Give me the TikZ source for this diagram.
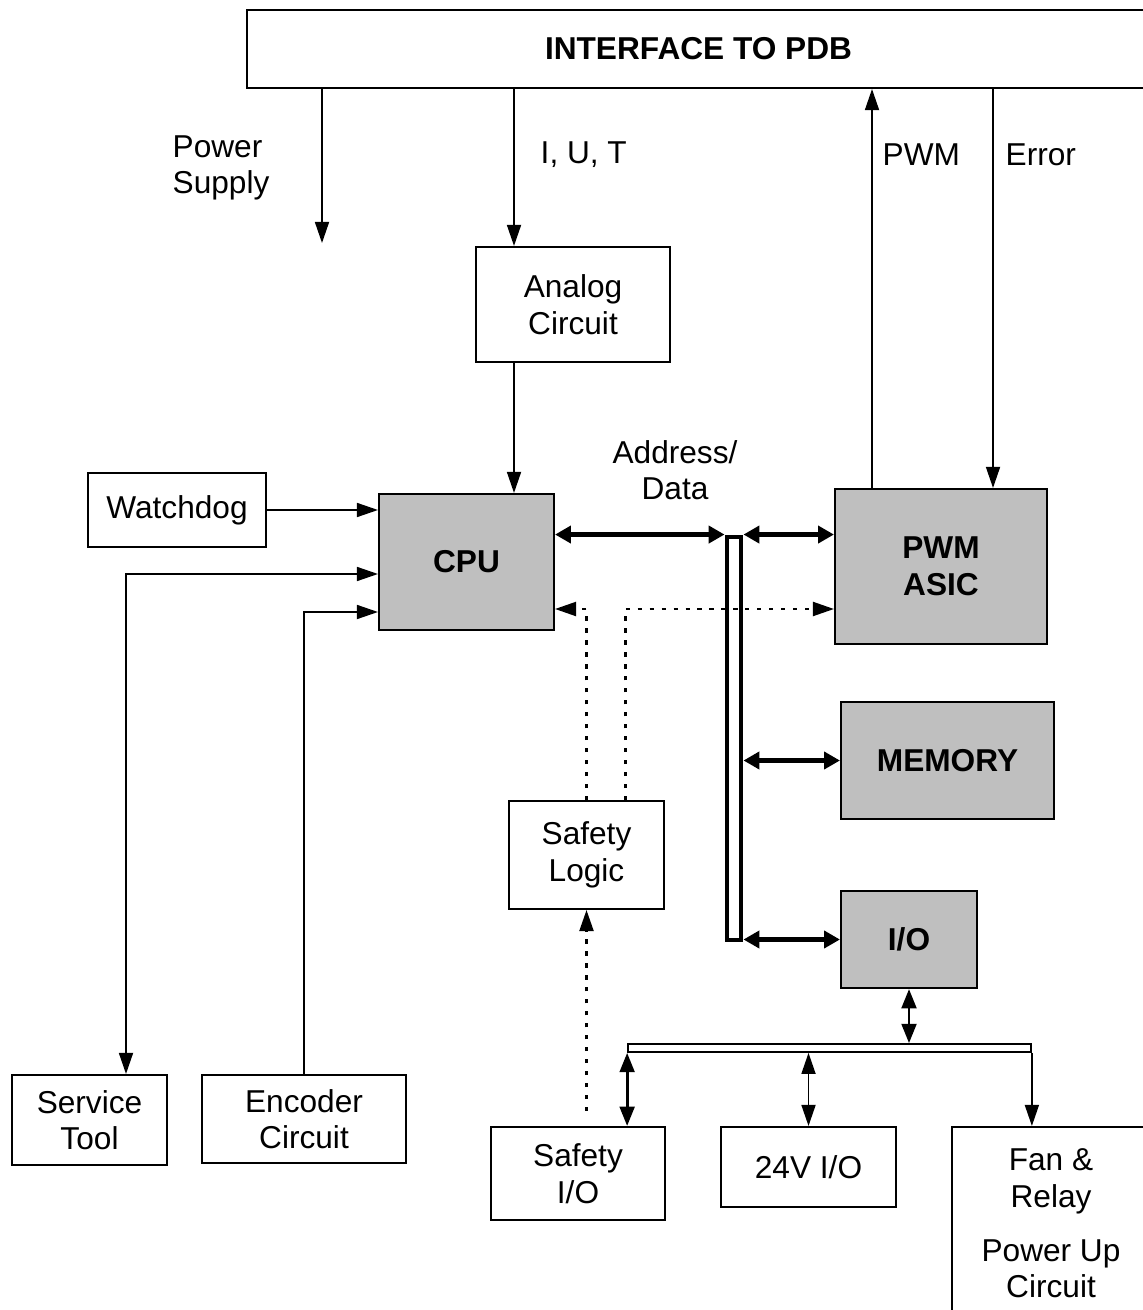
\documentclass[tikz,border=0pt]{standalone}
\usepackage{fontspec}
\setmainfont{Liberation Sans}
\usetikzlibrary{arrows.meta, calc, positioning}

\begin{document}
\begin{tikzpicture}[x=0.1mm, y=-0.1mm, >={Triangle[length=6pt,width=4pt]},
    txt/.style={font=\fontsize{9}{10.4}\selectfont, align=center, inner sep=0pt},
    blk/.style={txt, draw, line width=0.6pt},
    gblk/.style={blk, fill=gray!50, font=\fontsize{9}{10.4}\selectfont\bfseries},
    arr/.style={->, line width=0.45pt},
    arrb/.style={<->, line width=0.45pt},
    marr/.style={{Triangle[length=5.5pt,width=4.2pt]}-{Triangle[length=5.5pt,width=4.2pt]}, line width=0.8pt},
    dbus/.style={{Triangle[length=4.5pt,width=4.8pt]}-{Triangle[length=4.5pt,width=4.8pt]}, line width=1.4pt},
    dotarr/.style={->, line width=0.6pt, dash pattern=on 1.2pt off 2.2pt}]
    \clip (0,0) rectangle (1143,1310);
    \node[blk, minimum width=90.3mm, minimum height=7.8mm, font=\fontsize{9}{10.4}\selectfont\bfseries] (pdb) at (698.5,49) {INTERFACE TO PDB};
    \node[blk, minimum width=19.4mm, minimum height=11.5mm] (analog) at (573,304.5) {Analog\\Circuit};
    \node[blk, minimum width=17.8mm, minimum height=7.4mm] (wdog) at (177,510) {Watchdog};
    \node[gblk, minimum width=17.5mm, minimum height=13.6mm] (cpu) at (466.5,562) {CPU};
    \node[gblk, minimum width=21.2mm, minimum height=15.5mm] (pwm) at (941,566.5) {PWM\\ASIC};
    \node[gblk, minimum width=21.3mm, minimum height=11.7mm] (mem) at (947.5,760.5) {MEMORY};
    \node[gblk, minimum width=13.6mm, minimum height=9.7mm] (io) at (909,939.5) {I/O};
    \node[draw, fill=white, line width=1.4pt, inner sep=0pt, minimum width=1.4mm, minimum height=40.3mm] (bus) at (734,738.5) {};
    \node[blk, minimum width=15.5mm, minimum height=10.8mm] (safety) at (586.5,855) {Safety\\Logic};
    \node[blk, minimum width=15.5mm, minimum height=9mm] (service) at (89.5,1120) {Service\\Tool};
    \node[blk, minimum width=20.4mm, minimum height=8.8mm] (encoder) at (304,1119) {Encoder\\Circuit};
    \node[blk, minimum width=17.4mm, minimum height=9.3mm] (sio) at (578,1173.5) {Safety\\I/O};
    \node[blk, minimum width=17.5mm, minimum height=8mm] (v24) at (808.5,1167) {24V I/O};
    \node[blk, minimum width=19.8mm, minimum height=19.3mm] (fan) at (1051,1223.5) {Fan \&\\Relay\\[5pt]Power Up\\Circuit};
    \node[draw, fill=white, line width=0.5pt, inner sep=0pt, minimum width=40.3mm, minimum height=0.8mm] (lbus) at (829.5,1048) {};

    \node[txt, anchor=west, align=left] (lblpwr) at (172,168) {Power\\Supply};
    \node[txt, anchor=west] (lbliut) at (540,155) {I, U, T};
    \node[txt, anchor=west] (lblpwm) at (882,155) {PWM};
    \node[txt, anchor=west] (lblerr) at (1005,155) {Error};
    \node[txt] (lbladdr) at (675,470) {Address/\\Data};

    \coordinate (pwrend) at (322,243);
    \coordinate (iut) at ($(analog.north)+(-59,0)$);
    \coordinate (pwmx) at ($(pwm.north)+(-69,0)$);
    \coordinate (errx) at ($(pwm.north)+(52,0)$);
    \coordinate (dl) at ($(cpu.east)+(0,47)$);

    \draw[arr] (pwrend |- pdb.south) -- (pwrend);
    \draw[arr] (iut |- pdb.south) -- (iut);
    \draw[arr] (iut |- analog.south) -- (iut |- cpu.north);
    \draw[arr] (pwmx) -- (pwmx |- pdb.south);
    \draw[arr] (errx |- pdb.south) -- (errx);
    \draw[arr] (wdog.east) -- (wdog.east -| cpu.west);
    \draw[arrb] ($(service.north)+(36.5,0)$) |- ($(cpu.west)+(0,12)$);
    \draw[arr] (encoder.north) |- ($(cpu.west)+(0,50)$);

    \draw[dbus] (cpu.east |- bus.north) -- (bus.north west);
    \draw[dbus] (bus.north east) -- (bus.north east -| pwm.west);
    \draw[dbus] (bus.east |- mem.west) -- (mem.west);
    \draw[dbus] (bus.east |- io.west) -- (io.west);

    \draw[dotarr] (safety.north) |- (dl);
    \draw[dotarr] ($(safety.north)+(39,0)$) |- (dl -| pwm.west);
    \draw[dotarr] ($(safety.south |- sio.north)+(0,-15)$) -- (safety.south);

    \draw[marr] (io.south) -- (io.south |- lbus.north);
    \draw[marr] (lbus.south west) -- (lbus.south west |- sio.north);
    \draw[arrb] (v24.north |- lbus.south) -- (v24.north);
    \draw[arr] (lbus.south east) -- (lbus.south east |- fan.north);
\end{tikzpicture}
\end{document}
